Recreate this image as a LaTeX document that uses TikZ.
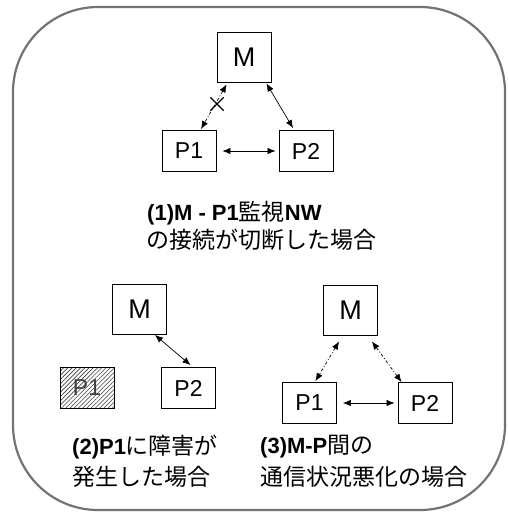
\documentclass[tikz,border=0pt]{standalone}
\usepackage{fontspec}
\setmainfont{Liberation Sans}
\newfontfamily\jpfont{Noto Sans CJK JP}
\usetikzlibrary{arrows.meta,patterns.meta,shapes.misc}
\newcommand{\lb}[1]{{\rmfamily\bfseries\fontsize{22}{22}\selectfont #1}}
\begin{document}
\begin{tikzpicture}[x=1pt,y=-1pt,
  box/.style={draw=black,line width=0.9pt,inner sep=0pt},
  mbox/.style={box,minimum width=54pt,minimum height=50pt,font=\fontsize{27}{27}\selectfont},
  pbox/.style={box,minimum width=54pt,minimum height=41pt,font=\fontsize{23}{23}\selectfont},
  solidarr/.style={{Latex[length=8pt,width=6.5pt]}-{Latex[length=8pt,width=6.5pt]},line width=0.7pt},
  dasharr/.style={solidarr,dash pattern=on 3pt off 2pt on 1pt off 2pt},
  caption/.style={anchor=west,inner sep=0pt,font=\jpfont\fontsize{23}{23}\selectfont},
]
\useasboundingbox (0,0) rectangle (508,512);
\draw[draw=black!55,line width=2.2pt,rounded corners=85pt] (13,7) rectangle (505,510);

% diagram 1
\node[mbox] (m1) at (244,57) {M};
\node[pbox] (p11) at (189,151) {P1};
\node[pbox] (p21) at (306,151) {P2};
\path (m1.south west) ++(10,2) coordinate (a1) (p11.north) ++(12,-1) coordinate (b1);
\draw[dasharr] (a1) -- (b1);
\node[cross out,draw,line width=1.3pt,minimum size=12pt,inner sep=0pt] (x1) at (217,104) {};
\path (m1.south east) ++(-5,1) coordinate (c1) (p21.north) ++(-13,-2) coordinate (d1);
\draw[solidarr] (c1) -- (d1);
\path (p11.east) ++(6,0) coordinate (e1) (p21.west) ++(-3,0) coordinate (f1);
\draw[solidarr] (e1) -- (f1);
\node[caption] (t1a) at (147,213) {\lb{(1)M - P1}監視\lb{NW}};
\node[caption] (t1b) at (146,240) {の接続が切断した場合};

% diagram 2
\node[mbox] (m2) at (139.5,309.5) {M};
\node[pbox,pattern={Lines[angle=45,distance=3pt,line width=0.6pt]},pattern color=black!75,text=black!75] (p12) at (87,388) {P1};
\node[pbox] (p22) at (188.5,388) {P2};
\path (m2.south east) ++(-12,0) coordinate (a2) (p22.north) ++(2,-2) coordinate (b2);
\draw[solidarr] (a2) -- (b2);
\node[caption] (t2a) at (72,447) {\lb{(2)P1}に障害が};
\node[caption] (t2b) at (72,477) {発生した場合};

% diagram 3
\node[mbox] (m3) at (350.5,310) {M};
\node[pbox] (p13) at (309.5,403) {P1};
\node[pbox] (p23) at (425,403) {P2};
\path (m3.south west) ++(16,6) coordinate (a3) (p13.north) ++(6,-1) coordinate (b3);
\draw[dasharr] (a3) -- (b3);
\path (m3.south east) ++(-6,6) coordinate (c3) (p23.north west) ++(4,0) coordinate (d3);
\draw[dasharr] (c3) -- (d3);
\path (p13.east) ++(6,0) coordinate (e3) (p23.west) ++(-3,0) coordinate (f3);
\draw[solidarr] (e3) -- (f3);
\node[caption] (t3a) at (260,447) {\lb{(3)M-P}間の};
\node[caption] (t3b) at (260,477) {通信状況悪化の場合};
\end{tikzpicture}
\end{document}
